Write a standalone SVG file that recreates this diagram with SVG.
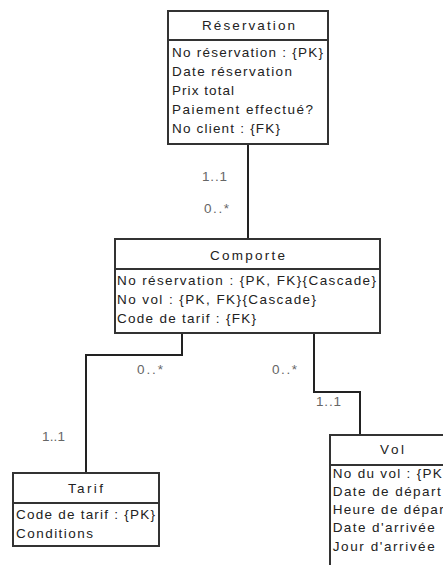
<svg xmlns="http://www.w3.org/2000/svg" width="443" height="565" viewBox="0 0 443 565">
<style>
.box{fill:#fff;stroke:#333;stroke-width:2}
.div{stroke:#333;stroke-width:2}
.t{font-family:"Liberation Sans",Arial,sans-serif;font-size:13.5px;fill:#222}
.m{font-family:"Liberation Sans",Arial,sans-serif;font-size:13.5px;fill:#666}
.con{fill:none;stroke:#222;stroke-width:2}
</style>
<rect width="443" height="565" fill="#fff"/>
<g id="connectors">
<path class="con" d="M248,144 V239"/>
<path class="con" d="M182,333 V355 H86 V473"/>
<path class="con" d="M314,333 V392 H360 V435"/>
</g>
<g id="labels">
<text class="m" x="202" y="181" textLength="25" lengthAdjust="spacing">1..1</text>
<text class="m" x="204" y="213" textLength="25" lengthAdjust="spacing">0..*</text>
<text class="m" x="137" y="374" textLength="26" lengthAdjust="spacing">0..*</text>
<text class="m" x="42" y="441" textLength="23" lengthAdjust="spacing">1..1</text>
<text class="m" x="272" y="374" textLength="25" lengthAdjust="spacing">0..*</text>
<text class="m" x="316" y="406" textLength="25" lengthAdjust="spacing">1..1</text>
</g>
<g id="reservation">
<rect class="box" x="168" y="11" width="160" height="133"/>
<line class="div" x1="168" y1="40" x2="328" y2="40"/>
<text class="t" x="202" y="30" textLength="93" lengthAdjust="spacing">Réservation</text>
<text class="t" x="172" y="57" textLength="151" lengthAdjust="spacing">No réservation  : {PK}</text>
<text class="t" x="172" y="76" textLength="120" lengthAdjust="spacing">Date réservation</text>
<text class="t" x="172" y="94.5" textLength="62" lengthAdjust="spacing">Prix total</text>
<text class="t" x="172" y="113.5" textLength="141" lengthAdjust="spacing">Paiement effectué?</text>
<text class="t" x="172" y="133" textLength="108" lengthAdjust="spacing">No client : {FK}</text>
</g>
<g id="comporte">
<rect class="box" x="115" y="239" width="265" height="94"/>
<line class="div" x1="115" y1="269" x2="380" y2="269"/>
<text class="t" x="210" y="260" textLength="75" lengthAdjust="spacing">Comporte</text>
<text class="t" x="117" y="285" textLength="259" lengthAdjust="spacing">No réservation : {PK, FK}{Cascade}</text>
<text class="t" x="117" y="304.3" textLength="199" lengthAdjust="spacing">No vol : {PK, FK}{Cascade}</text>
<text class="t" x="117" y="323.3" textLength="139" lengthAdjust="spacing">Code de tarif : {FK}</text>
</g>
<g id="tarif">
<rect class="box" x="13" y="473" width="146" height="73"/>
<line class="div" x1="13" y1="503" x2="159" y2="503"/>
<text class="t" x="68" y="492.7" textLength="35" lengthAdjust="spacing">Tarif</text>
<text class="t" x="16" y="519.3" textLength="139" lengthAdjust="spacing">Code de tarif : {PK}</text>
<text class="t" x="16" y="538.3" textLength="77" lengthAdjust="spacing">Conditions</text>
</g>
<g id="vol">
<rect class="box" x="330" y="435" width="130" height="140"/>
<line class="div" x1="330" y1="465" x2="460" y2="465"/>
<text class="t" x="380" y="454" textLength="24" lengthAdjust="spacing">Vol</text>
<text class="t" x="332.7" y="477.7" textLength="115" lengthAdjust="spacing">No du vol : {PK}</text>
<text class="t" x="332.7" y="495.7" textLength="108" lengthAdjust="spacing">Date de départ</text>
<text class="t" x="332.7" y="514" textLength="116" lengthAdjust="spacing">Heure de départ</text>
<text class="t" x="332.7" y="532.3" textLength="102" lengthAdjust="spacing">Date d'arrivée</text>
<text class="t" x="332.7" y="551" textLength="102" lengthAdjust="spacing">Jour d'arrivée</text>
</g>
</svg>
